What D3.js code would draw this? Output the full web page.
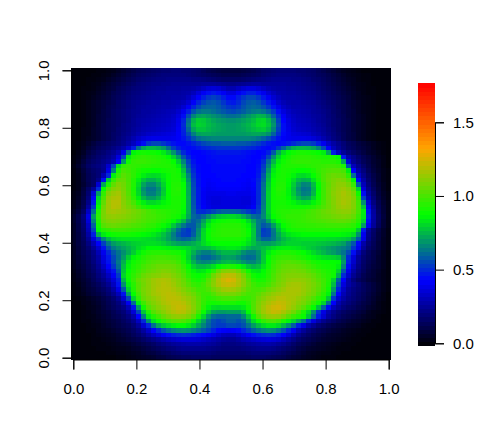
<!DOCTYPE html>
<html>
<head>
<meta charset="utf-8">
<script src="https://cdnjs.cloudflare.com/ajax/libs/d3/7.8.5/d3.min.js"></script>
<style>
	html, body {margin: 0; padding: 0; background: #fff;}
	svg {display: block;}
	text {font-family: "Liberation Sans", Arial, sans-serif; font-size: 15px; fill: #000;}
</style>
</head>
<body>
<div id="vis"></div>
<script>
// values, x100, first row is the top of the image
var zRows = [
[0,0,0,0,0,1,1,2,3,5,7,9,11,13,14,15,16,17,18,18,19,19,18,18,17,16,14,12,11,10,9,9,9,9,10,11,12,14,16,17,18,19,19,19,19,18,18,17,16,14,12,10,8,6,4,3,2,1,0,0,0,0,0,0],
[0,0,0,0,1,1,2,3,5,7,9,11,13,15,16,17,18,19,20,20,20,20,20,19,18,17,16,15,14,13,12,12,12,12,13,14,15,16,18,19,20,21,21,21,21,20,19,18,17,15,14,12,10,8,6,4,3,2,1,1,0,0,0,0],
[0,0,0,1,1,2,3,5,7,9,11,13,15,17,18,19,20,21,21,22,22,22,22,22,21,21,20,19,18,17,16,16,16,16,17,18,19,20,21,22,23,23,23,23,22,22,21,20,18,17,15,13,11,9,7,5,4,2,1,1,0,0,0,0],
[0,0,0,1,2,3,5,7,9,11,13,15,17,19,20,21,22,22,23,23,24,24,24,24,24,24,25,25,25,24,23,22,22,23,24,25,26,26,25,25,25,25,25,24,24,23,22,21,20,18,16,14,12,10,8,6,4,3,2,1,0,0,0,0],
[0,0,1,1,2,4,6,8,10,13,15,17,19,20,21,22,23,24,24,25,25,25,26,26,27,29,32,35,36,35,32,29,29,32,35,37,37,35,32,29,27,26,26,25,25,24,23,22,21,19,17,15,13,11,9,7,5,3,2,1,1,0,0,0],
[0,0,1,2,3,5,7,9,12,14,16,18,20,21,22,23,24,25,25,26,26,26,27,28,31,36,41,45,47,45,41,37,37,41,45,48,48,45,40,35,31,28,27,26,26,25,24,23,22,20,18,16,14,12,10,8,6,4,2,1,1,0,0,0],
[0,0,1,2,4,6,8,10,13,15,17,19,21,22,23,24,25,25,26,26,27,27,28,31,36,42,48,52,54,52,48,44,44,48,52,55,55,52,47,41,35,31,28,27,27,26,25,24,23,21,19,17,15,13,11,9,6,4,3,2,1,0,0,0],
[0,0,1,3,5,7,9,11,13,16,18,20,22,23,24,25,26,26,27,27,28,29,31,35,42,49,54,57,58,56,52,48,47,50,55,58,59,57,52,47,40,34,30,28,27,27,26,25,24,22,20,18,16,14,12,9,7,5,3,2,1,0,0,0],
[0,0,1,3,5,7,9,12,14,16,18,20,22,24,25,26,26,27,28,28,29,31,35,41,49,55,59,60,60,58,55,52,51,53,57,60,61,60,57,52,46,39,33,30,28,28,27,26,25,23,21,19,17,14,12,10,7,5,3,2,1,0,0,0],
[0,0,1,3,5,7,10,12,15,17,19,21,23,24,26,26,27,28,29,30,31,34,40,48,57,62,64,64,62,60,58,56,55,57,59,62,64,65,63,59,53,45,37,33,30,29,28,27,25,24,22,20,17,15,12,10,8,5,3,2,1,0,0,0],
[0,0,1,3,5,8,10,12,15,17,19,21,23,25,26,27,28,29,30,31,33,37,45,56,66,71,72,70,68,66,64,62,62,63,66,69,72,75,74,69,60,50,41,35,32,30,29,28,26,25,23,20,18,15,13,10,8,6,4,2,1,0,0,0],
[0,0,1,3,5,8,10,13,15,17,19,21,24,26,27,28,29,30,31,32,34,39,49,62,74,79,78,75,72,70,69,68,68,69,71,73,76,80,81,76,67,54,43,37,33,31,30,29,27,25,23,21,18,16,13,11,8,6,4,2,1,0,0,0],
[0,0,1,3,5,8,11,13,15,17,20,22,24,26,28,29,30,31,32,33,35,40,50,64,76,80,79,76,74,72,71,70,70,71,73,75,78,81,82,78,69,56,45,38,34,32,31,30,28,26,24,21,18,16,13,11,8,6,4,2,1,0,0,0],
[0,0,2,3,6,8,11,13,15,18,20,22,25,27,29,30,31,32,33,34,36,41,49,61,72,77,77,75,73,72,71,70,70,71,72,74,76,78,79,75,66,54,45,39,35,33,32,31,29,27,25,22,19,16,13,11,8,6,4,2,1,0,0,0],
[0,0,2,3,6,8,11,13,16,18,21,23,26,29,31,33,34,35,36,37,38,42,48,56,65,71,72,72,71,70,70,70,70,70,70,71,72,72,71,68,60,51,44,40,37,36,35,34,31,29,26,23,20,17,14,11,9,6,4,2,1,0,0,0],
[0,0,2,4,6,8,11,13,16,19,22,25,29,33,36,38,39,39,39,39,40,42,46,51,57,62,64,65,66,66,66,66,66,66,66,66,65,63,60,56,51,46,42,40,39,39,39,38,36,33,29,25,21,18,14,11,9,6,4,2,1,0,0,0],
[0,1,3,6,9,12,14,16,18,20,23,27,32,38,45,52,55,55,52,49,46,44,44,46,49,52,55,57,58,58,59,59,59,58,58,57,55,53,50,47,45,44,45,47,50,53,55,55,53,48,40,33,27,23,19,15,13,10,8,6,4,2,1,0],
[0,1,4,8,11,14,16,18,21,24,28,35,48,62,72,76,76,74,70,62,54,48,45,44,45,47,49,50,51,52,52,52,52,52,51,50,49,47,45,44,46,52,60,68,74,76,76,75,72,66,56,42,31,25,20,16,14,11,9,7,4,2,1,0],
[0,2,5,10,13,16,18,21,24,29,40,62,86,90,91,90,90,88,84,78,69,59,50,45,43,43,44,45,46,47,47,47,47,47,46,45,44,43,44,48,58,72,82,87,90,92,92,91,90,88,85,72,48,33,25,20,16,13,10,7,5,3,1,0],
[1,3,7,12,15,18,20,23,27,37,55,84,93,95,96,95,94,93,91,87,80,70,58,49,44,43,43,44,45,45,45,45,45,45,45,44,43,43,46,55,68,80,87,91,94,95,95,95,94,93,92,92,91,87,47,28,22,17,13,10,7,4,2,0],
[1,4,9,14,17,19,22,25,30,42,70,90,96,97,97,96,95,94,93,92,88,79,66,54,46,43,43,44,44,45,45,45,45,45,44,44,43,44,50,62,75,85,90,93,95,96,96,96,95,95,94,94,94,92,72,36,24,19,14,11,7,5,2,0],
[2,6,11,16,19,21,24,34,55,82,95,97,96,95,94,94,93,93,93,93,91,85,72,57,48,44,43,43,44,44,44,44,44,44,44,43,43,45,53,66,80,88,92,93,93,93,93,94,95,96,97,98,98,97,92,58,31,23,17,12,8,5,2,0],
[1,4,9,14,17,19,23,38,65,92,100,98,95,92,90,89,88,88,90,91,92,90,77,61,50,44,43,43,44,44,44,44,44,44,44,43,43,46,55,70,84,90,92,91,90,88,88,89,92,96,99,101,102,102,100,85,42,27,20,14,9,6,3,1],
[1,3,8,13,16,19,30,50,85,97,103,100,95,90,85,82,81,82,85,89,92,91,81,66,52,45,43,43,43,44,44,44,44,44,43,43,43,47,58,74,86,91,92,90,86,82,81,83,88,94,100,104,106,105,104,95,62,33,23,16,11,7,3,1],
[1,3,8,13,16,22,45,78,96,104,105,100,93,85,78,74,74,77,83,89,92,92,85,69,54,46,43,42,43,43,44,44,44,43,43,42,44,49,60,76,88,92,92,88,82,76,74,75,83,92,100,105,108,110,108,103,86,44,27,18,12,7,3,1],
[1,3,7,12,16,35,72,92,104,110,107,101,93,82,72,67,67,72,80,88,93,93,88,72,55,46,43,41,42,43,43,43,43,43,42,41,43,50,62,78,89,93,93,87,79,71,66,67,76,88,98,104,109,112,112,108,97,60,31,20,13,8,4,1],
[1,3,9,16,25,50,88,103,110,112,108,101,92,80,68,63,63,68,78,88,93,94,89,73,56,47,42,40,41,42,42,42,42,42,41,40,42,50,63,79,90,94,93,86,77,68,63,64,74,87,98,105,110,113,115,112,104,80,36,23,15,9,4,1],
[2,4,10,18,36,70,96,110,114,116,109,102,93,81,70,65,65,70,79,88,93,93,89,73,56,47,41,39,39,39,39,40,40,39,39,39,41,50,63,80,90,93,92,86,78,70,65,66,75,88,98,105,111,114,117,114,108,90,45,26,17,10,5,2],
[2,5,11,20,42,80,100,114,117,118,110,104,95,85,76,71,71,75,82,88,92,92,89,74,57,47,41,38,37,37,38,38,38,38,37,37,40,50,64,80,90,92,91,87,81,75,71,72,80,89,98,105,110,114,116,115,110,96,54,30,19,11,6,2],
[3,6,12,22,47,84,104,115,119,119,111,106,100,92,85,81,81,83,86,89,92,92,89,74,57,47,41,38,36,36,37,37,37,37,36,36,40,50,64,80,90,91,91,89,86,83,81,82,86,92,99,105,110,114,117,115,110,99,68,35,21,13,7,3],
[3,7,13,26,53,88,107,115,119,118,112,108,104,98,93,90,89,89,90,91,92,92,88,74,58,48,42,39,37,37,37,37,37,37,37,38,42,52,65,80,90,92,92,91,90,90,90,91,93,97,101,105,109,113,115,114,110,100,78,40,24,14,8,3],
[5,9,16,32,62,93,108,115,116,115,113,111,108,106,103,100,98,96,95,94,93,92,87,74,59,51,50,52,55,58,60,60,60,59,56,53,50,54,66,80,90,93,94,94,95,95,96,98,100,102,105,107,109,111,112,112,108,100,85,46,26,15,8,3],
[7,12,20,38,70,95,108,112,113,112,111,109,107,105,102,100,99,97,96,94,92,90,84,72,61,58,62,68,74,78,80,81,81,79,74,68,62,60,67,78,88,92,94,96,96,96,97,99,100,102,104,105,107,108,109,108,105,97,84,48,27,16,9,3],
[7,12,19,36,66,93,106,109,110,109,108,107,105,103,101,99,98,96,94,91,87,82,75,65,59,62,71,80,86,89,90,91,91,90,87,81,72,64,62,71,81,88,92,94,95,96,97,98,99,100,101,102,103,104,104,103,100,94,80,45,26,16,8,3],
[6,11,18,32,60,90,102,105,106,105,104,103,101,100,98,96,95,92,89,85,78,70,64,58,58,65,75,85,91,93,94,94,94,94,91,86,76,64,58,61,70,80,88,92,94,95,95,96,96,97,97,98,98,98,98,97,95,89,70,40,25,15,8,3],
[6,11,17,30,55,87,94,96,98,98,98,97,96,95,94,92,90,87,83,77,69,61,55,52,58,68,80,88,92,94,95,95,95,95,93,88,78,64,53,55,64,76,84,89,91,92,92,93,93,93,93,93,93,93,92,91,90,78,47,25,17,11,6,2],
[6,10,16,27,48,74,84,88,90,91,91,91,90,89,87,86,84,81,77,72,65,58,54,53,59,69,81,89,93,94,95,95,95,95,93,89,78,64,54,55,63,72,79,83,85,86,87,87,87,87,87,87,87,87,86,85,82,68,40,23,16,10,6,2],
[6,10,15,24,37,53,66,75,80,82,83,83,83,83,82,81,80,78,75,71,66,62,60,61,65,71,81,88,91,92,92,92,92,92,90,85,77,66,60,60,64,70,75,78,80,81,82,82,82,82,82,81,81,80,79,77,70,58,38,22,15,10,5,2],
[6,10,14,21,30,42,54,64,70,73,75,77,79,80,81,82,82,81,79,76,73,71,70,71,73,76,81,85,87,88,88,88,88,88,86,82,77,72,70,70,72,75,78,80,80,80,79,79,79,78,77,76,75,73,71,65,58,44,28,19,14,9,5,2],
[5,9,13,18,25,34,46,57,64,68,71,74,77,81,84,87,87,87,86,85,84,83,82,80,77,75,75,76,79,82,83,84,84,83,79,75,72,73,76,79,82,84,85,85,84,83,81,79,77,75,73,71,69,67,65,62,52,40,25,17,13,9,5,2],
[5,9,13,17,22,30,40,50,58,63,68,73,79,85,90,93,94,94,94,93,92,91,87,81,74,68,65,65,68,72,75,75,75,73,68,65,65,69,77,84,89,92,93,93,92,90,88,85,81,78,75,72,70,67,63,56,45,30,20,15,11,8,4,1],
[5,8,12,16,21,27,37,47,55,62,70,79,86,90,94,97,98,99,99,98,97,95,89,80,70,63,60,60,63,66,70,71,70,67,63,61,62,68,78,87,93,96,97,97,96,94,92,89,86,84,82,81,80,78,67,50,36,25,18,14,11,7,4,1],
[4,8,11,15,20,26,36,46,55,64,74,84,90,93,96,99,101,102,102,102,101,98,92,83,74,68,66,67,69,72,75,76,75,73,69,66,66,70,79,88,95,99,101,102,101,100,98,95,92,90,89,88,88,87,70,48,34,24,17,13,10,7,4,1],
[4,7,10,14,18,24,32,42,52,62,76,86,92,95,99,102,104,106,106,106,105,102,96,88,80,76,76,78,82,87,91,93,92,89,84,78,75,77,83,90,97,101,104,105,105,104,102,99,96,93,91,90,89,85,66,44,31,22,16,12,9,7,4,1],
[3,6,9,13,17,22,28,37,46,58,78,88,93,97,101,104,106,108,110,109,107,104,99,92,86,83,84,88,95,104,110,111,111,107,99,90,84,83,87,93,98,103,106,107,108,107,106,103,100,97,94,92,90,80,58,39,27,20,15,11,8,6,3,1],
[2,5,8,12,15,20,25,32,41,53,80,90,95,100,105,108,110,111,113,113,110,107,102,95,90,88,90,96,106,113,119,121,120,115,108,98,90,87,89,94,100,105,108,110,110,110,109,107,104,100,96,93,90,73,50,34,24,18,13,10,8,5,3,1],
[2,4,7,10,14,18,22,28,36,48,75,89,97,104,108,111,115,117,118,117,113,110,105,99,93,91,94,102,110,118,123,126,124,118,111,102,94,91,92,96,101,106,109,112,113,113,112,110,106,102,98,93,80,60,42,28,20,15,12,9,7,5,3,1],
[1,3,6,9,12,15,19,24,32,46,68,85,94,102,107,111,115,117,119,118,115,111,107,102,97,95,98,104,111,117,121,122,121,117,111,104,98,95,96,99,104,108,111,115,116,116,114,111,108,104,98,92,76,55,37,28,23,19,15,12,9,6,3,1],
[1,2,5,8,10,13,16,20,27,38,58,80,93,102,108,111,115,118,119,119,117,114,110,106,102,98,98,101,107,111,115,116,115,112,107,102,99,99,101,105,108,111,114,117,117,117,114,111,107,103,97,90,70,49,33,25,21,18,15,12,9,6,3,1],
[1,2,4,7,9,11,14,18,23,31,46,70,88,99,107,111,115,117,119,120,119,117,113,110,106,101,97,97,101,106,108,108,108,106,102,99,100,103,107,110,113,115,117,117,117,116,113,109,106,100,94,86,63,43,30,24,20,17,14,11,8,5,2,0],
[0,1,2,4,6,8,11,14,18,24,35,55,80,95,105,109,112,115,118,120,120,119,116,113,109,103,97,94,96,98,100,100,100,98,96,97,100,106,110,114,116,119,119,117,116,113,110,106,101,95,91,78,52,35,27,22,19,16,13,10,7,4,2,0],
[0,0,2,3,5,7,10,13,16,20,27,40,62,85,98,106,110,113,117,119,121,121,119,115,110,104,96,91,90,91,92,92,92,90,90,94,101,108,113,117,120,122,121,118,115,111,108,103,96,90,80,62,42,29,23,20,17,14,11,9,6,3,1,0],
[0,0,1,3,4,6,9,12,15,18,22,30,46,70,90,102,107,111,114,117,120,122,121,117,111,104,94,86,82,81,82,82,82,82,84,91,101,109,115,120,123,124,122,117,113,108,103,96,88,76,60,44,31,25,20,17,15,12,10,7,5,3,1,0],
[0,0,1,2,4,6,8,10,13,16,19,25,36,55,78,93,102,107,111,115,118,120,119,115,110,100,89,79,72,70,70,71,71,71,76,87,99,108,115,119,122,121,117,112,107,100,92,82,68,52,38,29,23,19,16,14,12,10,8,5,3,2,1,0],
[0,0,1,2,3,5,7,9,12,14,17,21,28,43,65,84,93,99,105,109,112,113,112,109,103,92,80,69,62,60,60,61,61,61,67,78,90,102,109,113,114,113,109,103,97,93,89,77,62,47,35,26,21,17,14,12,10,8,6,4,3,1,0,0],
[0,0,1,1,3,4,6,8,10,12,15,18,23,32,50,68,82,89,95,99,102,103,101,97,90,80,71,62,56,54,56,59,59,57,60,70,81,89,96,100,101,98,92,86,80,72,63,50,37,29,23,19,16,13,11,9,7,6,4,3,1,1,0,0],
[0,0,0,1,2,3,5,7,9,11,13,15,19,25,35,49,62,72,78,82,85,87,87,84,79,72,66,60,55,53,53,55,55,54,57,63,70,76,81,84,84,81,75,68,59,48,38,29,24,19,16,13,11,9,8,6,5,4,2,1,1,0,0,0],
[0,0,0,1,1,3,4,5,7,9,11,13,16,20,26,33,42,50,57,62,66,68,69,68,65,62,58,54,49,44,42,41,42,44,49,54,59,63,66,68,67,63,57,49,40,31,25,20,17,14,12,10,8,7,5,4,3,2,1,1,0,0,0,0],
[0,0,0,0,1,2,3,4,5,7,9,11,14,17,21,26,31,36,41,45,48,50,51,50,48,46,44,41,38,34,31,30,30,33,37,41,45,48,50,51,50,47,42,36,29,23,19,16,13,11,9,7,6,5,4,3,2,1,1,0,0,0,0,0],
[0,0,0,0,1,1,2,3,4,6,7,9,11,13,16,19,22,25,28,31,33,35,36,36,36,35,33,31,29,27,25,24,24,26,29,31,33,35,36,37,36,34,30,26,22,18,15,13,11,9,7,6,5,4,3,2,1,1,0,0,0,0,0,0],
[0,0,0,0,1,1,1,2,3,4,5,6,8,10,12,14,16,19,21,23,25,26,27,28,28,28,27,26,25,23,21,21,21,22,23,25,26,27,28,28,27,25,23,20,17,14,12,10,8,6,5,4,3,2,1,1,1,0,0,0,0,0,0,0],
[0,0,0,0,0,1,1,1,2,3,3,4,6,7,9,11,13,15,17,19,20,22,23,23,23,23,23,22,21,20,19,19,19,19,20,21,22,23,23,23,22,20,18,16,14,11,9,7,6,5,4,3,2,1,1,1,0,0,0,0,0,0,0,0],
[0,0,0,0,0,0,0,1,1,2,2,3,4,5,7,9,10,12,14,15,17,18,19,19,19,19,19,19,18,17,17,17,17,17,17,18,19,19,19,19,18,17,15,13,11,9,7,5,4,3,2,2,1,1,0,0,0,0,0,0,0,0,0,0],
[0,0,0,0,0,0,0,0,0,1,1,2,3,4,5,6,7,9,10,12,13,14,15,15,16,16,16,16,15,15,15,15,15,15,15,15,16,16,16,15,14,13,12,10,8,7,5,4,3,2,1,1,1,0,0,0,0,0,0,0,0,0,0,0]
];

var axisTicks = [0, 0.2, 0.4, 0.6, 0.8, 1];
var barTicks = [0, 0.5, 1, 1.5];
var rampColors = ["#000000", "#0000ff", "#00ff00", "#ffa500", "#ff0000"];
var zMin = -0.016;
var zMax = 1.767;
var barLevels = 64;

var svg = d3.select("#vis").append("svg")
	.attr("width", 501)
	.attr("height", 446);

var x = d3.scaleLinear().domain([0, 1]).range([73.3, 388.7]);
var y = d3.scaleLinear().domain([0, 1]).range([357.7, 70.3]);
var barY = d3.scaleLinear().domain([0, 1.5]).range([343.3, 122.3]);

// black, blue, green, orange, red at even steps over the range
var color = d3.scaleLinear()
	.domain(d3.range(rampColors.length).map(function (i) {
		return zMin + (zMax - zMin)*i/(rampColors.length-1);
	}))
	.range(rampColors)
	.interpolate(d3.interpolateRgb)
	.clamp(true);

var n = zRows.length - 1;
var cw = x(1/63) - x(0);
var ch = y(0) - y(1/n);

var cells = [];
zRows.forEach(function (row, r) {
	row.forEach(function (v, c) {
		cells.push({u: c/63, v: 1 - r/n, z: v/100});
	});
});

svg.append("g").selectAll("rect")
	.data(cells)
	.enter()
	.append("rect")
	.attr("x", function (d) {return x(d.u) - cw/2})
	.attr("y", function (d) {return y(d.v) - ch/2})
	.attr("width", cw)
	.attr("height", ch)
	.attr("shape-rendering", "crispEdges")
	.attr("fill", function (d) {return color(d.z)});

function styleAxis (g) {
	g.selectAll("path, line").attr("stroke", "#000").attr("stroke-width", 1);
	g.selectAll("text").style("font-size", "15px");
}

svg.append("g")
	.attr("transform", "translate(0,359.5)")
	.call(d3.axisBottom(x).tickValues(axisTicks).tickFormat(d3.format(".1f")).tickSizeOuter(0).tickSize(10).tickPadding(14))
	.call(styleAxis);

var yAxis = svg.append("g")
	.attr("transform", "translate(71.5,0)")
	.call(d3.axisLeft(y).tickValues(axisTicks).tickFormat(d3.format(".1f")).tickSizeOuter(0).tickSize(9).tickPadding(0))
	.call(styleAxis);

yAxis.selectAll("text")
	.attr("text-anchor", "middle")
	.attr("dy", 0)
	.attr("x", 0)
	.attr("transform", function () {return "translate(-23,0) rotate(-90)"});

// colour bar
var barTop = barY(zMax);
var barBottom = barY(zMin);
var levels = d3.range(barLevels);
var levelH = (barBottom - barTop)/barLevels;

svg.append("g").selectAll("rect")
	.data(levels)
	.enter()
	.append("rect")
	.attr("x", 418)
	.attr("y", function (d) {return barBottom - (d+1)*levelH})
	.attr("width", 17)
	.attr("height", levelH + 0.5)
	.attr("shape-rendering", "crispEdges")
	.attr("fill", function (d) {return color(zMin + (zMax-zMin)*(d+0.5)/barLevels)});

svg.append("g")
	.attr("transform", "translate(435,0)")
	.call(d3.axisRight(barY).tickValues(barTicks).tickFormat(d3.format(".1f")).tickSizeOuter(0).tickSize(9).tickPadding(9))
	.call(styleAxis);
</script>
</body>
</html>
